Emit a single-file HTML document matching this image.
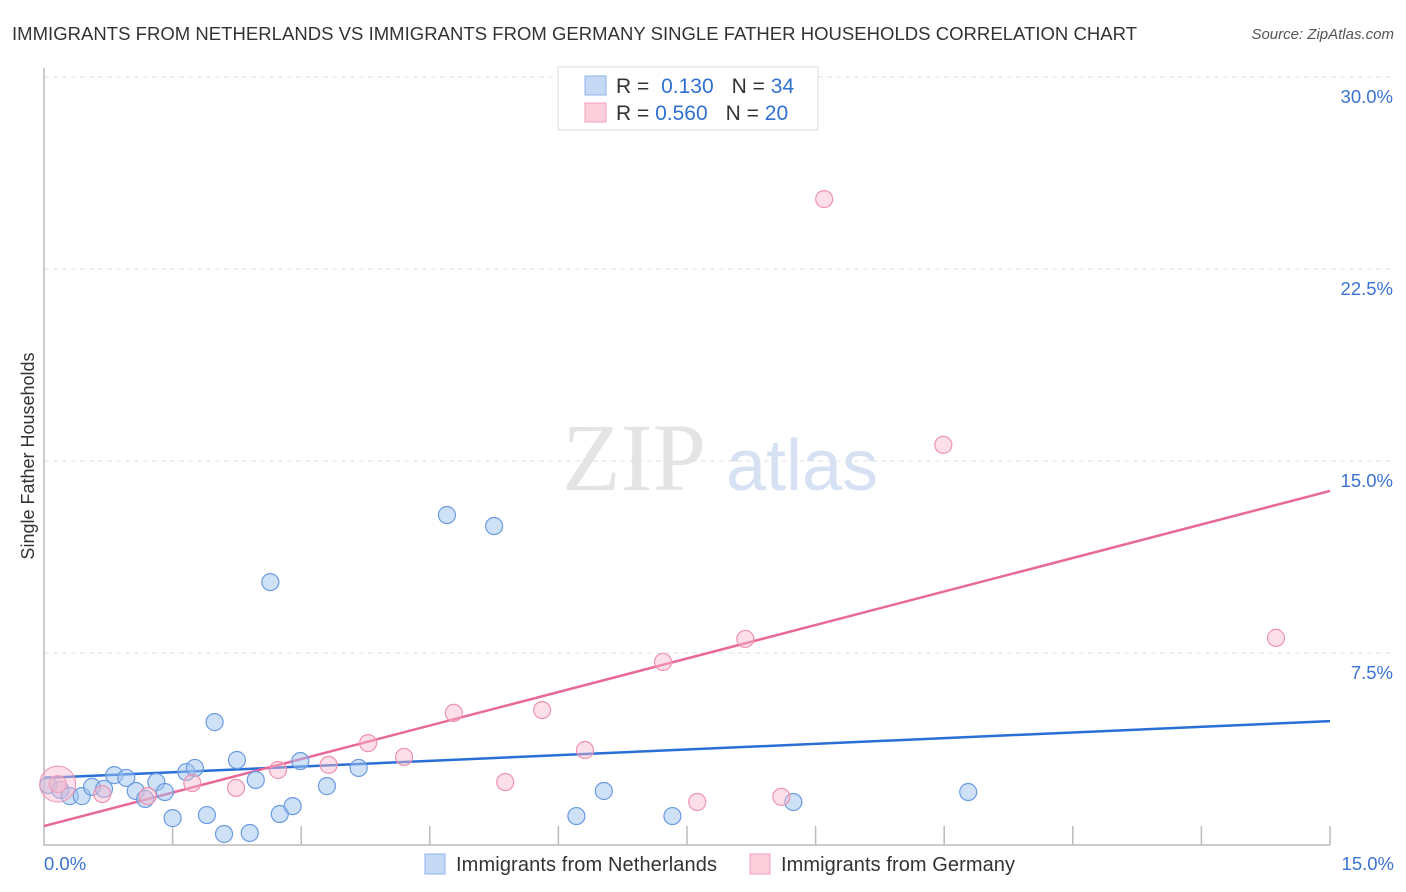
<!DOCTYPE html>
<html><head><meta charset="utf-8"><style>
body{margin:0;background:#fff;font-family:"Liberation Sans",sans-serif;}
svg{display:block}
</style></head><body>
<svg id="chart" width="1406" height="892">
<text x="12" y="40" font-size="18.5" fill="#333" textLength="1125">IMMIGRANTS FROM NETHERLANDS VS IMMIGRANTS FROM GERMANY SINGLE FATHER HOUSEHOLDS CORRELATION CHART</text>
<text x="1394" y="39" font-size="15" fill="#555" font-style="italic" text-anchor="end">Source: ZipAtlas.com</text>
<text transform="translate(34,456) rotate(-90)" font-size="18" fill="#333" text-anchor="middle">Single Father Households</text>
<g>
<text x="634" y="490" font-size="96" font-family="Liberation Serif,serif" fill="#e4e4e4" text-anchor="middle">ZIP</text>
<text x="802" y="490" font-size="72" fill="#d6e2f3" text-anchor="middle">atlas</text>
</g>
<g id="grid"></g><g id="axes"></g><g id="lines"></g><g id="pts"></g>
<g>
<rect x="558" y="67" width="260" height="63" fill="#fff" stroke="#ddd"/>
<rect x="585" y="76" width="21" height="19" fill="#c5d9f5" stroke="#8fb3e8"/>
<rect x="585" y="103" width="21" height="19" fill="#fbd0dc" stroke="#f0a0b8"/>
<text x="616" y="93" font-size="21" fill="#333">R = <tspan fill="#3070d0" dx="6">0.130</tspan><tspan dx="18" fill="#333">N = </tspan><tspan fill="#3070d0">34</tspan></text>
<text x="616" y="120" font-size="21" fill="#333">R = <tspan fill="#3070d0">0.560</tspan><tspan dx="18" fill="#333">N = </tspan><tspan fill="#3070d0">20</tspan></text>
</g>
<g>
<rect x="425" y="854" width="20" height="20" fill="#c5d9f5" stroke="#8fb3e8"/>
<text x="456" y="871" font-size="20" fill="#333" textLength="261">Immigrants from Netherlands</text>
<rect x="750" y="854" width="20" height="20" fill="#fbd0dc" stroke="#f0a0b8"/>
<text x="781" y="871" font-size="20" fill="#333" textLength="234">Immigrants from Germany</text>
</g>
</svg>
<script>
const yTicks=[7.5,15,22.5,30];
const yTickLabels=["7.5%","15.0%","22.5%","30.0%"];
const xTickLabels=["0.0%","15.0%"];
const blueX=[0.05,0.19,0.30,0.44,0.56,0.70,0.82,0.96,1.07,1.18,1.31,1.41,1.50,1.66,1.76,1.90,1.99,2.10,2.25,2.40,2.47,2.64,2.75,2.90,2.99,3.30,3.67,4.70,5.25,6.21,6.53,7.33,8.74,10.78];
const blueY=[2.34,2.15,1.91,1.91,2.27,2.19,2.73,2.62,2.11,1.80,2.46,2.07,1.05,2.85,3.01,1.17,4.80,0.43,3.32,0.47,2.54,10.27,1.21,1.52,3.28,2.30,3.01,12.89,12.46,1.13,2.11,1.13,1.68,2.07];
const pinkX=[0.16,0.68,1.21,1.73,2.24,2.73,3.32,3.78,4.20,4.78,5.38,5.81,6.31,7.22,7.62,8.18,8.60,9.10,10.49,14.37];
const pinkY=[2.38,1.99,1.91,2.42,2.23,2.93,3.13,3.98,3.44,5.16,2.46,5.27,3.71,7.15,1.68,8.05,1.88,25.23,15.63,8.09];
const blueLine=[2.62,4.84];
const pinkLine=[0.74,13.83];
const X0=44,X1=1330,Y0=845,PPY=25.6;
const sx=v=>X0+v/15*(X1-X0);
const sy=v=>Y0-v*PPY;
const NS="http://www.w3.org/2000/svg";
function mk(p,t,a){const e=document.createElementNS(NS,t);for(const k in a)e.setAttribute(k,a[k]);document.getElementById(p).appendChild(e);return e;}
yTicks.forEach((t,i)=>{
 const g=mk('grid','line',{x1:X0,x2:1394,y1:sy(t),y2:sy(t),stroke:'#e2e2e2','stroke-dasharray':'5,4'});
 
 
 const l=mk('grid','text',{x:1393,y:sy(t)+26,'font-size':18.5,fill:'#3b73d0','text-anchor':'end'});
 l.textContent=yTickLabels[i];
 
 
});
const ax=mk('axes','path',{d:`M${X0},68V${Y0}H${X1}`,stroke:'#bbb',fill:'none','stroke-width':1.5});


for(let i=1;i<=10;i++){const t=mk('axes','line',{x1:sx(i*1.5),x2:sx(i*1.5),y1:826,y2:Y0,stroke:'#bbb','stroke-width':1.5});
 
 }
[[0,'start',X0],[1,'end',1394]].forEach(([i,a,x])=>{const l=mk('axes','text',{x:x,y:870,'font-size':18.5,fill:'#3b73d0','text-anchor':a});l.textContent=xTickLabels[i];
 
 });
function pts(xs,ys,fill,stroke,name){xs.forEach((x,i)=>{const c=mk('pts','circle',{cx:sx(x),cy:sy(ys[i]),r:8.5,fill:fill,stroke:stroke,'stroke-width':1.2});
 
 });}
pts(blueX,blueY,'rgba(160,195,240,0.5)','#6a9be0','netherlands-point');
pts(pinkX,pinkY,'rgba(248,185,205,0.45)','#ee93b0','germany-point');
const big=mk('pts','circle',{cx:sx(pinkX[0]),cy:sy(pinkY[0]),r:18,fill:'rgba(248,185,205,0.45)',stroke:'#ee93b0'});


const bl=mk('lines','line',{x1:sx(0),x2:sx(15),y1:sy(blueLine[0]),y2:sy(blueLine[1]),stroke:'#2a6fd6','stroke-width':2.5});


const pl=mk('lines','line',{x1:sx(0),x2:sx(15),y1:sy(pinkLine[0]),y2:sy(pinkLine[1]),stroke:'#e8689a','stroke-width':2.5});


</script>
</body></html>
